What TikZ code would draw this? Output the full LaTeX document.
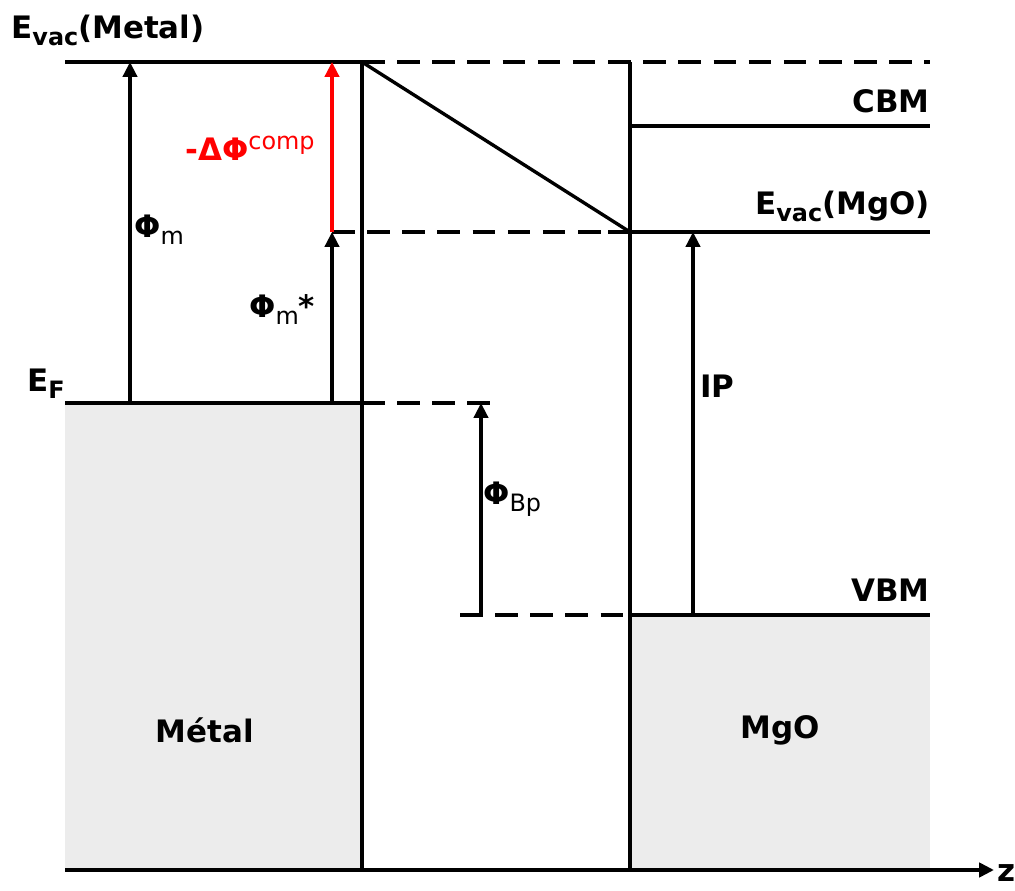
\documentclass[tikz,border=0pt]{standalone}
\usepackage{fontspec}
\setmainfont{DejaVu Sans}
\usetikzlibrary{arrows.meta}

\newcommand{\lo}[1]{\raisebox{-0.4ex}{\fontsize{17}{17}\selectfont #1}}
\newcommand{\hi}[1]{\raisebox{0.7ex}{\fontsize{17}{17}\selectfont #1}}

\begin{document}
\begin{tikzpicture}[x=0.025cm, y=-0.025cm, >={Triangle[length=10.5pt,width=10pt]},
    level/.style={line width=3.2pt},
    dashlevel/.style={line width=3.2pt, dash pattern=on 16pt off 9pt},
    gap/.style={->, line width=2.4pt},
    lab/.style={font=\fontsize{22}{22}\selectfont\bfseries, inner sep=0pt}]
            \useasboundingbox (0,0) rectangle (1015,891);

            % Coordinates
            \coordinate (Vm0) at (65,62);    % vacuum level, metal
            \coordinate (Vm1) at (362,62);
            \coordinate (Vm2) at (930,62);
            \coordinate (F0) at (65,403);    % Fermi level
            \coordinate (F1) at (362,403);
            \coordinate (F2) at (495,403);
            \coordinate (S0) at (332,232);   % shifted vacuum level
            \coordinate (S1) at (630,232);
            \coordinate (S2) at (930,232);
            \coordinate (C0) at (630,126);   % CBM
            \coordinate (C1) at (930,126);
            \coordinate (V0) at (460,615);   % VBM
            \coordinate (V1) at (630,615);
            \coordinate (V2) at (930,615);
            \coordinate (I0) at (362,870);   % interfaces on the axis
            \coordinate (I1) at (630,870);
            \coordinate (Z0) at (65,870);
            \coordinate (Z1) at (994,870);

            % Bands
            \fill[gray!15] (F0) rectangle (I0);
            \fill[gray!15] (V1) rectangle (930,868);

            % Levels
            \draw[level] (Vm0) -- (Vm1);
            \draw[dashlevel] (Vm1) -- (Vm2);
            \draw[level] (F0) -- (F1);
            \draw[dashlevel] (F1) -- (F2);
            \draw[dashlevel] (S0) -- (S1);
            \draw[level] (608,232) -- (S2);
            \draw[level] (C0) -- (C1);
            \draw[dashlevel] (V0) -- (V1);
            \draw[level] (V1) -- (V2);
            \draw[line width=2.4pt] (Vm1) -- (S1);

            % Interfaces
            \draw[level] (Vm1) -- (I0);
            \draw[level] (630,62) -- (I1);

            % Axis
            \draw[->, line width=3.2pt] (Z0) -- (Z1) node[lab, anchor=west, xshift=1pt, yshift=-2pt] (z) {z};

            % Arrows
            \draw[gap] (130,403) -- (130,62);
            \draw[gap] (332,403) -- (S0);
            \draw[gap, red] (S0) -- (332,62);
            \draw[gap] (481,615) -- (481,403);
            \draw[gap] (693,615) -- (693,232);

            % Labels
            \node[lab, anchor=base west] (evm) at (11,39) {E\lo{vac}(Metal)};
            \node[lab, anchor=base west] (ef) at (27,392) {E\lo{F}};
            \node[lab, anchor=base west] (phim) at (134,238) {Φ\lo{\mdseries m}};
            \node[lab, anchor=base west] (phis) at (249,318) {Φ\lo{\mdseries m}*};
            \node[lab, anchor=base west, red] (dphi) at (185,161) {-ΔΦ\hi{\mdseries comp}};
            \node[lab, anchor=base west] (phib) at (483,505) {Φ\lo{\mdseries Bp}};
            \node[lab, anchor=base west] (ip) at (700,398) {IP};
            \node[lab, anchor=base east] (cbm) at (930,113) {CBM};
            \node[lab, anchor=base east] (evo) at (930,215) {E\lo{vac}(MgO)};
            \node[lab, anchor=base east] (vbm) at (930,602) {VBM};
            \node[lab] (met) at (205,730) {Métal};
            \node[lab] (mgo) at (780,730) {MgO};
        \end{tikzpicture}
\end{document}
